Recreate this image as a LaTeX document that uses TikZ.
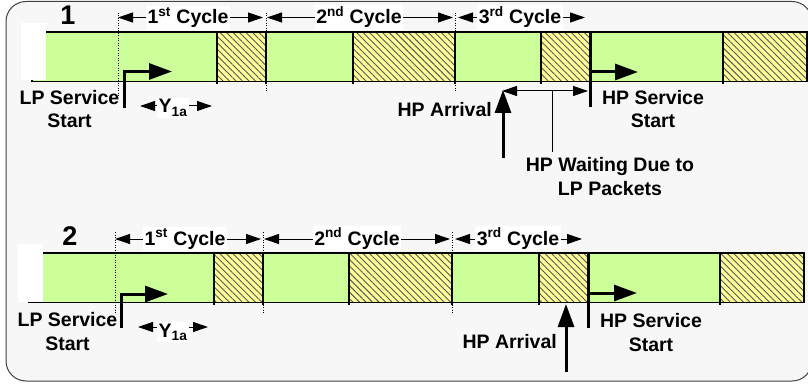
\documentclass[tikz,border=0pt]{standalone}
\usepackage{fontspec}
\setmainfont{Liberation Sans}
\usetikzlibrary{arrows.meta,patterns.meta}
\definecolor{grn}{HTML}{CCFF99}
\definecolor{ylw}{HTML}{FFFF99}
\definecolor{bgc}{HTML}{F7F7F7}
\definecolor{hatchc}{HTML}{555555}
\begin{document}
\begin{tikzpicture}[x=1pt,y=-1pt,
  txt/.style={font=\fontsize{19.5}{23.5}\selectfont\bfseries, inner sep=0pt, align=center},
  big/.style={font=\fontsize{27}{30}\selectfont\bfseries, inner sep=0pt},
  wbox/.style={fill=white, inner sep=1.5pt},
  dblarrow/.style={line width=1pt, {Triangle[length=15pt,width=10pt]}-{Triangle[length=15pt,width=10pt]}},
  bigarrow/.style={line width=3pt, -{Triangle[length=23pt,width=16pt]}},
  heavy/.style={line width=3pt},
  dotline/.style={line width=0.8pt, dash pattern=on 1pt off 1.5pt},
  hatchseg/.style={pattern={Lines[angle=-45,distance=4.6pt,line width=0.9pt]}, pattern color=hatchc},
  barline/.style={line width=1.4pt, line cap=rect}
]
\useasboundingbox (0,0) rectangle (808,385);
% frame
\draw[draw=black!75, line width=1pt, fill=bgc, rounded corners=20pt] (6,1.5) rectangle (812,381);

% ---------- row 1 bar ----------
\foreach \a/\b in {32/217, 266/353, 455/541, 590/723} \fill[grn] (\a,32) rectangle (\b,81.5);
\foreach \a/\b in {217/266, 353/455, 541/590, 723/807} {
  \fill[ylw] (\a,32) rectangle (\b,81.5);
  \fill[hatchseg] (\a,32) rectangle (\b,81.5);
}
\draw[barline] (32,32) rectangle (807,81.5);
\foreach \s in {217, 266, 353, 455, 541, 723} \draw[line width=1.4pt] (\s,32) -- (\s,84);
\fill[white] (21,23) rectangle (46,80.5);

% ---------- row 2 bar ----------
\foreach \a/\b in {29/214, 263/349, 452/539, 588/720} \fill[grn] (\a,253) rectangle (\b,302.5);
\foreach \a/\b in {214/263, 349/452, 539/588, 720/804} {
  \fill[ylw] (\a,253) rectangle (\b,302.5);
  \fill[hatchseg] (\a,253) rectangle (\b,302.5);
}
\draw[barline] (29,253) rectangle (804,302.5);
\foreach \s in {214, 263, 349, 452, 539, 720} \draw[line width=1.4pt] (\s,253) -- (\s,305);
\fill[white] (18,244) rectangle (43,301.5);

% ---------- dotted lines ----------
\foreach \x/\t/\u in {118/13/97, 266/13/92, 455/13/92} \draw[dotline] (\x,\t) -- (\x,\u);
\foreach \x/\t/\u in {115/232/313, 263/232/313, 452/232/313} \draw[dotline] (\x,\t) -- (\x,\u);

% ---------- row 1 labels and arrows ----------
\node[big, anchor=base] (n1) at (68,25) {1};

\coordinate (c1a) at (118,17.5); \coordinate (c1b) at (263,17.5);
\coordinate (c2a) at (267,17.5); \coordinate (c2b) at (453,17.5);
\coordinate (c3a) at (458,17.5); \coordinate (c3b) at (585,17.5);
\draw[dblarrow] (c1a) -- (c1b);
\draw[dblarrow] (c2a) -- (c2b);
\draw[dblarrow] (c3a) -- (c3b);
\node[txt, wbox, anchor=base] (cy11) at (188,24) {1\textsuperscript{st} Cycle};
\node[txt, wbox, anchor=base] (cy12) at (359,24) {2\textsuperscript{nd} Cycle};
\node[txt, wbox, anchor=base] (cy13) at (520,24) {3\textsuperscript{rd} Cycle};

\coordinate (lps1) at (124,108); \coordinate (lpe1) at (172,71.5);
\draw[bigarrow] (lps1) |- (lpe1);
\node[txt, anchor=base] (lp1) at (69.5,128) {LP Service\\Start};

\coordinate (y1a) at (140,106); \coordinate (y1b) at (212,106);
\draw[dblarrow] (y1a) -- (y1b);
\node[txt, wbox, anchor=base] (y1) at (173,113) {Y\textsubscript{1a}};

\coordinate (hpa1s) at (503,158); \coordinate (hpa1e) at (503,90);
\draw[bigarrow] (hpa1s) -- (hpa1e);
\node[txt, anchor=base east] (hpa1) at (492,117) {HP Arrival};

\coordinate (hw1a) at (502,91); \coordinate (hw1b) at (588,91);
\draw[dblarrow] (hw1a) -- (hw1b);
\coordinate (hwt) at (552,91); \coordinate (hwb) at (552,152);
\draw[line width=1pt] (hwt) -- (hwb);
\node[txt, anchor=base] (hpw) at (610,195) {HP Waiting Due to\\LP Packets};

\coordinate (hs1t) at (590,32); \coordinate (hs1b) at (590,107);
\draw[heavy] (hs1t) -- (hs1b);
\coordinate (hs1a) at (590,72); \coordinate (hs1e) at (638,72);
\draw[bigarrow] (hs1a) -- (hs1e);
\node[txt, anchor=base] (hps1) at (653,128) {HP Service\\Start};

% ---------- row 2 labels and arrows ----------
\node[big, anchor=base] (n2) at (70,245) {2};

\coordinate (d1a) at (115,239); \coordinate (d1b) at (261,239);
\coordinate (d2a) at (264,239); \coordinate (d2b) at (450,239);
\coordinate (d3a) at (455,239); \coordinate (d3b) at (582,239);
\draw[dblarrow] (d1a) -- (d1b);
\draw[dblarrow] (d2a) -- (d2b);
\draw[dblarrow] (d3a) -- (d3b);
\node[txt, wbox, anchor=base] (cy21) at (185,245) {1\textsuperscript{st} Cycle};
\node[txt, wbox, anchor=base] (cy22) at (357,245) {2\textsuperscript{nd} Cycle};
\node[txt, wbox, anchor=base] (cy23) at (518,245) {3\textsuperscript{rd} Cycle};

\coordinate (lps2) at (121.5,328); \coordinate (lpe2) at (168,294);
\draw[bigarrow] (lps2) |- (lpe2);
\node[txt, anchor=base] (lp2) at (67.5,350) {LP Service\\Start};

\coordinate (y2a) at (138,327); \coordinate (y2b) at (208,327);
\draw[dblarrow] (y2a) -- (y2b);
\node[txt, wbox, anchor=base] (y2) at (173,337) {Y\textsubscript{1a}};

\coordinate (hpa2s) at (566,372); \coordinate (hpa2e) at (566,304);
\draw[bigarrow] (hpa2s) -- (hpa2e);
\node[txt, anchor=base east] (hpa2) at (557,348) {HP Arrival};

\coordinate (hs2t) at (588,253); \coordinate (hs2b) at (588,328);
\draw[heavy] (hs2t) -- (hs2b);
\coordinate (hs2a) at (588,293); \coordinate (hs2e) at (637,293);
\draw[bigarrow] (hs2a) -- (hs2e);
\node[txt, anchor=base] (hps2) at (651,351) {HP Service\\Start};
\end{tikzpicture}
\end{document}
